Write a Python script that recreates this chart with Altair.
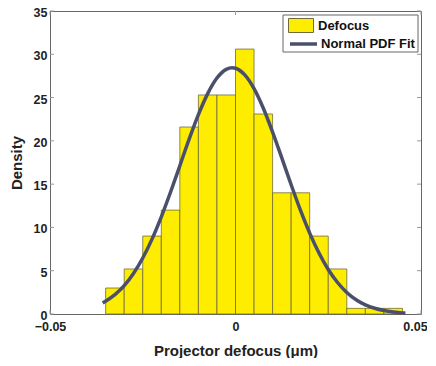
import altair as alt
import pandas as pd

# Histogram (density)
bin_edges = [-0.035, -0.030, -0.025, -0.020, -0.015, -0.010, -0.005, 0.000,
             0.005, 0.010, 0.015, 0.020, 0.025, 0.030, 0.035, 0.040, 0.045]
density = [3.0, 5.2, 9.0, 12.0, 21.6, 25.3, 25.3, 30.6,
           23.1, 14.0, 14.0, 9.0, 5.2, 0.65, 0.65, 0.65]

# Normal PDF fit curve
curve_x = [-0.0358, -0.0325, -0.030, -0.0275, -0.025, -0.0225, -0.020, -0.0175,
           -0.015, -0.0125, -0.010, -0.0075, -0.005, -0.0025, -0.0009, 0.000,
           0.0025, 0.005, 0.0075, 0.010, 0.0125, 0.015, 0.0175, 0.020,
           0.0225, 0.025, 0.0275, 0.030, 0.0325, 0.035, 0.0375, 0.040,
           0.0425, 0.045, 0.0458]
curve_y = [1.27, 2.23, 3.28, 4.68, 6.47, 8.65, 11.22, 14.09,
           17.13, 20.19, 23.03, 25.46, 27.26, 28.26, 28.45, 28.39,
           27.62, 26.03, 23.76, 21.01, 18.0, 14.93, 11.99, 9.34,
           7.04, 5.14, 3.64, 2.49, 1.65, 1.06, 0.66, 0.40,
           0.23, 0.13, 0.12]

x_ticks = [-0.05, 0.0, 0.05]
y_ticks = [0, 5, 10, 15, 20, 25, 30, 35]
series_names = ["Defocus", "Normal PDF Fit"]

W, H = 371, 303
FONT = "Liberation Sans"
BAR_FILL = "#FFED00"
BAR_EDGE = "#6E6C3A"
CURVE = "#4A4F6A"
FRAME = "#666666"

bars_df = pd.DataFrame({
    "x0": bin_edges[:-1],
    "x1": bin_edges[1:],
    "density": density,
    "series": series_names[0],
})
curve_df = pd.DataFrame({"x": curve_x, "y": curve_y, "series": series_names[1]})
yt_df = pd.DataFrame({"v": y_ticks})
xt_df = pd.DataFrame({"v": x_ticks})

xscale = alt.Scale(domain=[-0.05, 0.05], nice=False, zero=False)
yscale = alt.Scale(domain=[0, 35], nice=False)

x_axis = alt.Axis(
    values=x_ticks, domain=False, ticks=False, grid=False,
    labelExpr="datum.value == 0 ? '0' : format(datum.value, '.2f')",
    labelFont=FONT, labelFontWeight="bold", labelFontSize=12.5, labelColor="#222",
    labelPadding=6.5, labelBaseline="top", labelFlush=False,
    labelOffset={"condition": {"test": "datum.value >= 0.049", "value": -6},
                 "value": 0},
    title="Projector defocus (\u03bcm)", titleFont=FONT, titleFontWeight="bold",
    titleFontSize=15, titleColor="#222", titlePadding=10,
)
y_axis = alt.Axis(
    values=y_ticks, domain=False, ticks=False, grid=False,
    labelFont=FONT, labelFontWeight="bold", labelFontSize=12.5, labelColor="#222",
    labelPadding=3, labelFlush=False, labelOffset=1.5,
    title="Density", titleFont=FONT, titleFontWeight="bold",
    titleFontSize=15, titleColor="#222", titlePadding=9,
)

bars = alt.Chart(bars_df).mark_bar(stroke=BAR_EDGE, strokeWidth=0.8, opacity=1).encode(
    x=alt.X("x0:Q", scale=xscale, axis=x_axis),
    x2="x1:Q",
    y=alt.Y("density:Q", scale=yscale, axis=y_axis),
    y2=alt.Y2(datum=0),
    fill=alt.Fill(
        "series:N",
        scale=alt.Scale(domain=[series_names[0]], range=[BAR_FILL]),
        legend=alt.Legend(
            title=None, orient="none", legendX=238, legendY=1.5, padding=0,
            symbolType="M-1,-0.56H1V0.56H-1Z", symbolSize=625,
            symbolStrokeColor=BAR_EDGE, symbolStrokeWidth=1, symbolFillColor=BAR_FILL,
            labelFont=FONT, labelFontWeight="bold", labelFontSize=13,
            labelColor="#111", labelOffset=4,
        ),
    ),
)

line = alt.Chart(curve_df).mark_line(strokeWidth=3.5, interpolate="monotone").encode(
    x=alt.X("x:Q", scale=xscale),
    y=alt.Y("y:Q", scale=yscale),
    stroke=alt.Stroke(
        "series:N",
        scale=alt.Scale(domain=[series_names[1]], range=[CURVE]),
        legend=alt.Legend(
            title=None, orient="none", legendX=238, legendY=17.5, padding=0,
            symbolType="stroke", symbolSize=729, symbolStrokeWidth=3.5,
            labelFont=FONT, labelFontWeight="bold", labelFontSize=13,
            labelColor="#111", labelOffset=2,
        ),
    ),
)

legend_box = alt.Chart(pd.DataFrame({"a": [0]})).mark_rect(
    fill="white", stroke=FRAME, strokeWidth=1
).encode(
    x=alt.value(233), x2=alt.value(368), y=alt.value(4), y2=alt.value(41)
)

tick_style = dict(color="#999999", strokeWidth=1)
left_ticks = alt.Chart(yt_df).mark_rule(**tick_style).encode(
    x=alt.value(0), x2=alt.value(4), y=alt.Y("v:Q", scale=yscale))
right_ticks = alt.Chart(yt_df).mark_rule(**tick_style).encode(
    x=alt.value(W - 4), x2=alt.value(W), y=alt.Y("v:Q", scale=yscale))
bottom_ticks = alt.Chart(xt_df).mark_rule(**tick_style).encode(
    y=alt.value(H - 4), y2=alt.value(H), x=alt.X("v:Q", scale=xscale))
top_ticks = alt.Chart(xt_df).mark_rule(**tick_style).encode(
    y=alt.value(0), y2=alt.value(4), x=alt.X("v:Q", scale=xscale))

chart = alt.layer(
    left_ticks, right_ticks, bottom_ticks, top_ticks, bars, line, legend_box
).properties(
    width=W, height=H,
    autosize=alt.AutoSizeParams(type="none"),
    padding={"left": 42, "top": 3, "right": 6, "bottom": 44},
    background="white",
).configure_view(
    stroke=FRAME, strokeWidth=1
)

chart.save("out.html", embed_options={"renderer": "svg", "actions": False})
